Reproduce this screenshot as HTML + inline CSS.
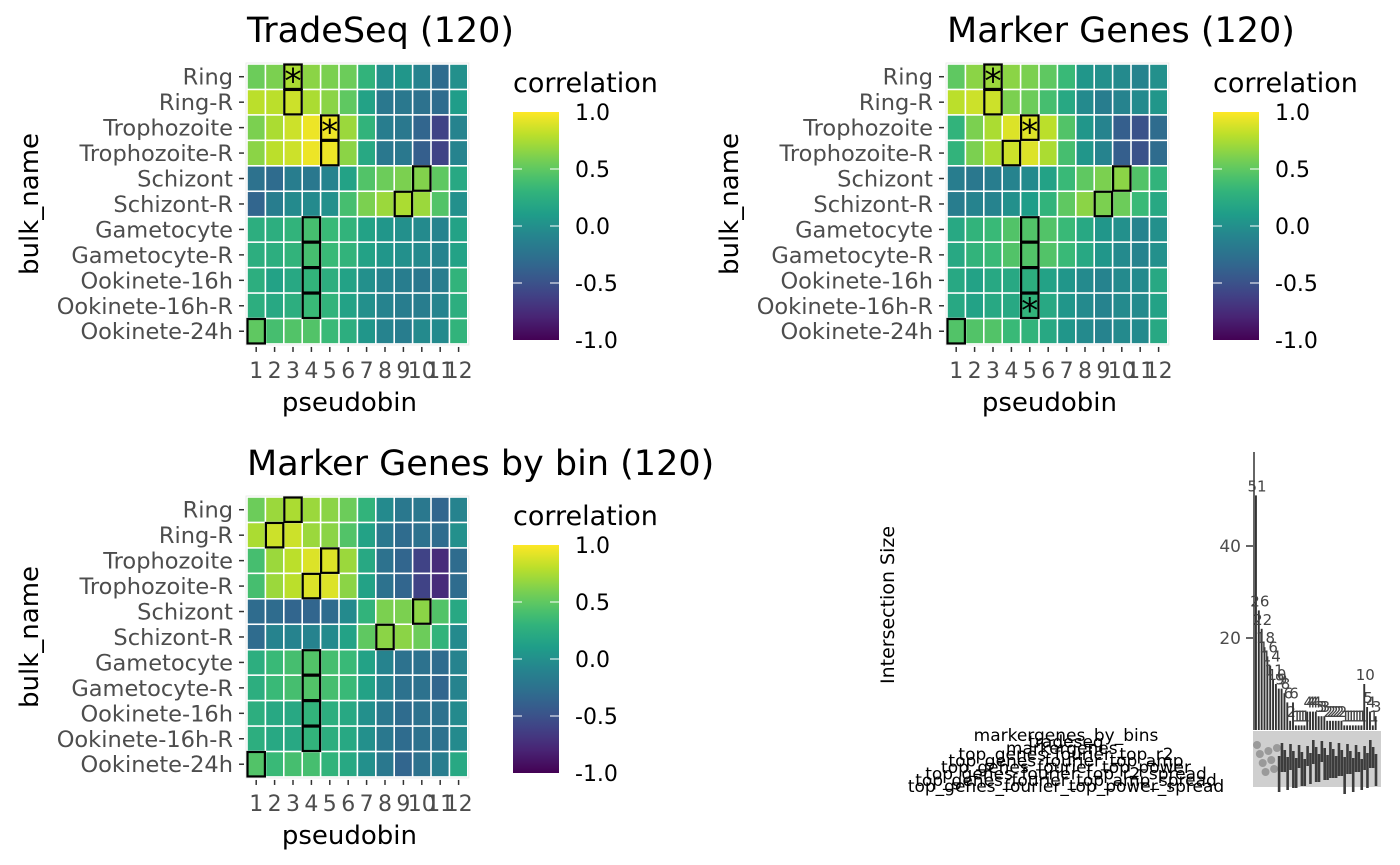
<!DOCTYPE html>
<html><head><meta charset="utf-8"><style>
html,body{margin:0;padding:0;background:#fff;}
svg{display:block;font-family:"DejaVu Sans","Liberation Sans",sans-serif;}
</style></head><body>
<svg id="s" width="1400" height="865" viewBox="0 0 1400 865" xmlns="http://www.w3.org/2000/svg"></svg>
<script>
const rowsNames=["Ring","Ring-R","Trophozoite","Trophozoite-R","Schizont","Schizont-R","Gametocyte","Gametocyte-R","Ookinete-16h","Ookinete-16h-R","Ookinete-24h"];
const bins=["1","2","3","4","5","6","7","8","9","10","11","12"];
const legendTicks=[1.0,0.5,0.0,-0.5,-1.0];
const legendLabels=["1.0","0.5","0.0","-0.5","-1.0"];
const tradeseqValues=[
[0.55,0.6,0.75,0.65,0.6,0.55,0.3,0.0,0.05,-0.1,-0.3,0.0],
[0.8,0.8,0.85,0.75,0.65,0.5,0.15,-0.2,-0.2,-0.25,-0.3,0.1],
[0.6,0.75,0.85,0.95,0.95,0.7,0.3,-0.15,-0.2,-0.35,-0.6,-0.1],
[0.65,0.8,0.85,0.95,0.95,0.65,0.2,-0.2,-0.2,-0.4,-0.6,-0.1],
[-0.25,-0.3,-0.15,-0.2,-0.1,0.15,0.45,0.55,0.6,0.62,0.5,0.2],
[-0.35,-0.15,-0.05,-0.05,0.0,0.4,0.6,0.7,0.75,0.7,0.45,0.0],
[0.25,0.25,0.3,0.4,0.35,0.3,0.15,0.05,0.0,-0.05,-0.1,0.15],
[0.25,0.25,0.3,0.4,0.35,0.3,0.15,0.05,0.0,-0.05,-0.1,0.15],
[0.25,0.15,0.2,0.3,0.25,0.15,0.0,-0.1,-0.15,-0.2,-0.15,0.3],
[0.25,0.2,0.25,0.35,0.3,0.15,0.0,-0.1,-0.15,-0.15,-0.1,0.25],
[0.5,0.4,0.45,0.45,0.35,0.25,0.05,-0.1,-0.15,-0.05,-0.05,0.3]];
const tradeseqBest=[2,2,4,4,9,8,3,3,3,3,0];
const tradeseqStar=[1,0,1,0,0,0,0,0,0,0,0];
const markerValues=[
[0.5,0.65,0.7,0.65,0.6,0.5,0.35,0.05,0.0,-0.05,-0.1,0.0],
[0.8,0.85,0.85,0.6,0.55,0.4,0.2,-0.05,-0.15,-0.1,-0.05,0.05],
[0.3,0.6,0.75,0.9,0.9,0.8,0.45,0.05,-0.1,-0.4,-0.5,-0.3],
[0.3,0.6,0.75,0.85,0.9,0.75,0.4,0.05,-0.1,-0.4,-0.5,-0.3],
[-0.15,-0.2,-0.15,-0.1,-0.05,0.15,0.35,0.5,0.6,0.65,0.45,0.3],
[-0.15,-0.1,-0.1,0.0,0.1,0.3,0.5,0.65,0.6,0.55,0.35,0.2],
[0.2,0.3,0.35,0.45,0.45,0.45,0.35,0.2,0.05,0.0,-0.1,0.0],
[0.2,0.3,0.35,0.45,0.45,0.45,0.35,0.2,0.05,-0.05,-0.1,0.0],
[0.2,0.15,0.2,0.2,0.25,0.15,0.05,-0.05,-0.1,-0.05,-0.05,0.2],
[0.2,0.15,0.2,0.2,0.3,0.2,0.05,-0.05,-0.1,-0.05,-0.05,0.15],
[0.45,0.45,0.45,0.35,0.3,0.2,0.05,-0.05,-0.1,-0.05,-0.05,0.2]];
const markerBest=[2,2,4,3,9,8,4,4,4,4,0];
const markerStar=[1,0,1,0,0,0,0,0,0,1,0];
const binValues=[
[0.55,0.7,0.75,0.7,0.65,0.55,0.3,-0.05,-0.2,-0.2,-0.35,-0.1],
[0.75,0.85,0.85,0.7,0.65,0.45,0.15,-0.2,-0.3,-0.25,-0.3,0.0],
[0.4,0.7,0.8,0.9,0.9,0.7,0.2,-0.25,-0.35,-0.6,-0.75,-0.3],
[0.4,0.7,0.8,0.9,0.9,0.65,0.15,-0.25,-0.35,-0.6,-0.75,-0.3],
[-0.3,-0.3,-0.35,-0.35,-0.3,-0.05,0.3,0.6,0.6,0.65,0.45,0.2],
[-0.3,-0.1,-0.1,-0.1,-0.05,0.15,0.5,0.65,0.65,0.55,0.3,-0.05],
[0.25,0.35,0.4,0.45,0.4,0.35,0.15,-0.1,-0.25,-0.25,-0.3,-0.1],
[0.25,0.35,0.4,0.45,0.4,0.35,0.15,-0.1,-0.25,-0.25,-0.35,-0.1],
[0.25,0.2,0.2,0.3,0.25,0.2,0.0,-0.2,-0.3,-0.25,-0.25,-0.05],
[0.25,0.2,0.2,0.3,0.25,0.2,0.0,-0.2,-0.3,-0.25,-0.25,-0.05],
[0.45,0.35,0.4,0.4,0.3,0.2,0.0,-0.2,-0.35,-0.25,-0.15,0.2]];
const binBest=[2,1,4,3,9,7,3,3,3,3,0];
const binStar=[0,0,0,0,0,0,0,0,0,0,0];
const upsetSizes=[51,26,22,18,16,14,11,10,9,9,8,6,2,6,1,1,1,1,4,4,4,4,3,3,3,2,2,2,2,2,2,1,1,1,1,1,1,1,10,5,4,1,3];
const upsetTicks=[20,40];
const setNames=["markergenes_by_bins","tradeseq","markergenes_","top_genes_fourier_top_r2","top_genes_fourier_top_amp","top_genes_fourier_top_power","top_genes_fourier_top_r2_spread","top_genes_fourier_top_amp_spread","top_genes_fourier_top_power_spread"];

const NS="http://www.w3.org/2000/svg";
const svg=document.getElementById('s');
function mk(tag,attrs,parent,text){const e=document.createElementNS(NS,tag);for(const k in attrs)e.setAttribute(k,attrs[k]);if(text!==undefined)e.textContent=text;(parent||svg).appendChild(e);return e;}
const vir=[[68,1,84],[72,40,120],[62,74,137],[49,104,142],[38,130,142],[31,158,137],[53,183,121],[109,205,89],[180,222,44],[253,231,37]];
function viridis(t){t=Math.max(0,Math.min(1,t));const p=t*(vir.length-1);const i=Math.min(vir.length-2,Math.floor(p));const f=p-i;const c=vir[i].map((v,k)=>Math.round(v+(vir[i+1][k]-v)*f));return `rgb(${c[0]},${c[1]},${c[2]})`;}
function colorOf(v){return viridis((v+1)/2);}

function heatmap(name,ox,oy,title,vals,best,star){
  const g=mk('g',{});
  
  
  const x0=ox, y0=oy, cw=18.4, ch=25.45, nC=bins.length, nR=rowsNames.length;
  const xs=c=>x0+c*cw, ys=r=>y0+r*ch;
  const t=mk('text',{x:ox,y:oy-22,'font-size':35,fill:'#000'},g,title);
  
  
  mk('rect',{x:x0-1,y:y0-1,width:nC*cw+2,height:nR*ch+2,fill:'none',stroke:'#ebebeb','stroke-width':1},g);
  for(let r=0;r<nR;r++){for(let c=0;c<nC;c++){
    const rc=mk('rect',{x:xs(c)+0.8,y:ys(r)+0.8,width:cw-1.6,height:ch-1.6,fill:colorOf(vals[r][c])},g);
    
    
  }}
  for(let r=0;r<nR;r++){
    const c=best[r];
    const b=mk('rect',{x:xs(c)+0.5,y:ys(r)+0.5,width:cw-1,height:ch-1,fill:'none',stroke:'#000','stroke-width':2.2},g);
    
    
    if(star[r]){const s=mk('text',{x:xs(c)+cw/2,y:ys(r)+ch/2+16,'font-size':34,'text-anchor':'middle',fill:'#000'},g,'*');
      
      }
  }
  for(let r=0;r<nR;r++){
    const yc=ys(r)+ch/2;
    mk('line',{x1:x0-8,x2:x0-3,y1:yc,y2:yc,stroke:'#333','stroke-width':1.5},g);
    const l=mk('text',{x:x0-14,y:yc+8,'font-size':22.5,'text-anchor':'end',fill:'#4d4d4d'},g,rowsNames[r]);
    
    
  }
  for(let c=0;c<nC;c++){
    const xc=xs(c)+cw/2;
    mk('line',{x1:xc,x2:xc,y1:y0+nR*ch+3,y2:y0+nR*ch+8,stroke:'#333','stroke-width':1.5},g);
    const l=mk('text',{x:xc,y:y0+nR*ch+34,'font-size':22,'text-anchor':'middle',fill:'#4d4d4d'},g,bins[c]);
    
    
  }
  const xt=mk('text',{x:x0+nC*cw/2-8,y:y0+nR*ch+67,'font-size':26,'text-anchor':'middle',fill:'#000'},g,'pseudobin');
  
  
  const yt=mk('text',{x:0,y:0,'font-size':26,'text-anchor':'middle',fill:'#000',transform:`translate(${ox-209},${y0+nR*ch/2}) rotate(-90)`},g,'bulk_name');
  
  
  const lx=ox+266, ly=oy+48, lw=46, lh=228;
  const lt=mk('text',{x:lx,y:oy+28,'font-size':27,fill:'#000'},g,'correlation');
  
  
  const gid='grad'+name;
  const defs=mk('defs',{},g);
  const lg=mk('linearGradient',{id:gid,x1:0,y1:1,x2:0,y2:0},defs);
  for(let i=0;i<=20;i++)mk('stop',{offset:(i/20),'stop-color':viridis(i/20)},lg);
  const bar=mk('rect',{x:lx,y:ly,width:lw,height:lh,fill:`url(#${gid})`},g);
  
  
  const ly2=v=>ly+(1-(v+1)/2)*lh;
  legendTicks.forEach((v,i)=>{
    const yy=ly2(v);
    if(v<1&&v>-1){mk('line',{x1:lx,x2:lx+9,y1:yy,y2:yy,stroke:'#fff','stroke-width':1},g);mk('line',{x1:lx+lw-9,x2:lx+lw,y1:yy,y2:yy,stroke:'#fff','stroke-width':1},g);}
    const tl=mk('text',{x:lx+lw+16,y:yy+8,'font-size':22,fill:'#000'},g,legendLabels[i]);
    
    
  });
}
heatmap('tradeseq-heatmap',247,64,'TradeSeq (120)',tradeseqValues,tradeseqBest,tradeseqStar);
heatmap('marker-genes-heatmap',947,64,'Marker Genes (120)',markerValues,markerBest,markerStar);
heatmap('marker-genes-by-bin-heatmap',247,497,'Marker Genes by bin (120)',binValues,binBest,binStar);

const ug=mk('g',{});


const bx0=1255, step=2.85, base=730, scale=4.6;
const yU=v=>base-v*scale;
mk('line',{x1:1254,x2:1254,y1:452,y2:base,stroke:'#000','stroke-width':1.2},ug);
upsetTicks.forEach(v=>{
  mk('line',{x1:1246,x2:1253,y1:yU(v),y2:yU(v),stroke:'#333','stroke-width':1.5},ug);
  const t=mk('text',{x:1241,y:yU(v)+6,'font-size':17,'text-anchor':'end',fill:'#4d4d4d'},ug,String(v));
  
  
});
const ut=mk('text',{x:0,y:0,'font-size':19,'text-anchor':'middle',fill:'#000',transform:'translate(894,605) rotate(-90)'},ug,'Intersection Size');


upsetSizes.forEach((v,i)=>{
  const x=bx0+i*step;
  const b=mk('rect',{x:x,y:yU(v),width:1.9,height:v*scale,fill:'#333'},ug);
  
  
  const l=mk('text',{x:x+2,y:yU(v)-4,'font-size':15,'text-anchor':'middle',fill:'#444'},ug,String(v));
  
  
});
const mat=mk('rect',{x:1253,y:731,width:128,height:56,fill:'#cfcfcf'},ug);


for(let i=0;i<upsetSizes.length;i++){
  const x=bx0+i*step;
  if(i>=8){mk('rect',{x:x,y:740+(i*7)%20,width:2.6,height:20+(i*11)%18,fill:'#3c3c3c'},ug);}
  else{mk('circle',{cx:x+2,cy:745+(i*9)%30,r:4,fill:'#9a9a9a'},ug);}
}
setNames.forEach((n,i)=>{
  const t=mk('text',{x:1066,y:741+i*6.4,'font-size':17,'text-anchor':'middle',fill:'#000'},ug,n);
  
  
});
</script>
</body></html>
